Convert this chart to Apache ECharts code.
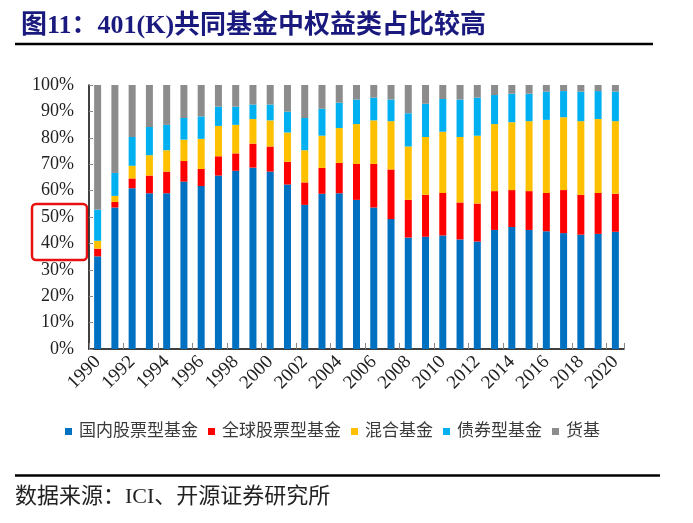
<!DOCTYPE html>
<html>
<head>
<meta charset="utf-8">
<script src="https://cdn.jsdelivr.net/npm/echarts@6/dist/echarts.min.js"></script>
<style>html,body{margin:0;padding:0;background:#fff;}#c{width:693px;height:523px;}</style>
</head>
<body>
<div id="c"></div>
<script>
const years = ['1990','1991','1992','1993','1994','1995','1996','1997','1998','1999','2000','2001','2002','2003','2004','2005','2006','2007','2008','2009','2010','2011','2012','2013','2014','2015','2016','2017','2018','2019','2020'];
const seriesNames = ['国内股票型基金','全球股票型基金','混合基金','债券型基金','货基'];
const domesticEquity = [35.1,53.6,60.9,59.0,59.0,63.4,61.7,65.7,67.5,68.7,67.2,62.3,54.6,58.8,59.0,56.5,53.6,49.2,42.2,42.5,43.0,41.5,40.7,45.1,46.2,45.1,44.6,43.9,43.3,43.6,44.4];
const globalEquity = [2.9,2.1,3.7,6.7,8.2,7.8,6.5,7.3,6.6,9.1,9.5,8.6,8.5,9.8,11.5,13.6,16.5,18.8,14.3,15.9,16.1,14.0,14.4,14.7,14.0,14.7,14.5,16.3,15.1,15.5,14.4];
const hybrid = [3.0,2.3,4.8,7.7,8.1,8.1,11.4,11.5,10.8,9.3,9.9,11.1,12.2,12.2,13.2,15.1,16.5,18.3,20.2,21.9,23.2,24.8,25.7,25.4,25.7,26.5,27.7,27.6,27.9,28.0,27.5];
const bond = [11.8,8.7,10.9,10.7,9.6,8.2,8.5,7.3,6.9,5.5,6.0,7.9,12.2,10.2,9.6,9.3,8.6,8.2,12.6,12.6,12.4,14.2,14.4,11.0,10.8,10.4,10.7,9.9,11.2,10.6,11.2];
const moneyMarket = [47.2,33.3,19.7,15.9,15.1,12.5,11.9,8.2,8.2,7.4,7.4,10.1,12.5,9.0,6.7,5.5,4.8,5.5,10.7,7.1,5.3,5.5,4.8,3.8,3.3,3.3,2.5,2.3,2.5,2.3,2.5];
const yTicks = [0,10,20,30,40,50,60,70,80,90,100];
const titleText = '图11：401(K)共同基金中权益类占比较高';
const sourceText = '数据来源：ICI、开源证券研究所';

const colors = ['#0070C0','#FF0000','#FFC000','#00B0F0','#8C8C8C'];
const values = [domesticEquity, globalEquity, hybrid, bond, moneyMarket];
const serifCJK = '"Liberation Serif", "Noto Sans CJK SC", serif';

const chart = echarts.init(document.getElementById('c'));
chart.setOption({
  animation: false,
  backgroundColor: '#fff',
  title: {
    text: titleText, left: 16, top: 8,
    textStyle: { fontFamily: serifCJK, fontWeight: 'bold', fontSize: 26, color: '#1a1a7e' }
  },
  grid: { left: 89, right: 69, top: 85, bottom: 174 },
  legend: {
    left: 60, top: 418,
    itemWidth: 7, itemHeight: 7, itemGap: 10,
    icon: 'rect',
    textStyle: { fontFamily: serifCJK, fontSize: 17, color: '#3a3a3a', padding: [0,0,0,2] },
    data: seriesNames
  },
  xAxis: {
    type: 'category', data: years,
    axisLine: { lineStyle: { color: '#000', width: 1.5 } },
    axisTick: { show: true, inside: true, length: 6, lineStyle: { color: '#888' } },
    axisLabel: { interval: 1, rotate: 45, fontFamily: '"Liberation Serif", serif', fontSize: 19, color: '#222', margin: 10 }
  },
  yAxis: {
    type: 'value', min: 0, max: 100, interval: 10,
    splitLine: { show: false },
    axisLine: { show: true, lineStyle: { color: '#000', width: 1.5 } },
    axisTick: { show: true, inside: true, length: 4, lineStyle: { color: '#888' } },
    axisLabel: { formatter: v => yTicks.includes(v) ? v + '%' : '', fontFamily: '"Liberation Serif", serif', fontSize: 18, color: '#222', margin: 15 }
  },
  series: seriesNames.map((n, i) => ({
    name: n, type: 'bar', stack: 'total', barWidth: 7,
    itemStyle: { color: colors[i] },
    data: values[i]
  })),
  graphic: [
    { type: 'line', shape: { x1: 15, y1: 44, x2: 653, y2: 44 }, style: { stroke: '#000', lineWidth: 2.5 } },
    { type: 'line', shape: { x1: 15, y1: 475.5, x2: 660, y2: 475.5 }, style: { stroke: '#000', lineWidth: 2.5 } },
    { type: 'text', left: 15, top: 486, style: { text: sourceText, font: '22px "Liberation Serif", "Noto Sans CJK SC", serif', fill: '#222' } },
    { type: 'rect', shape: { x: 32, y: 204, width: 55, height: 56, r: 4 }, style: { fill: 'none', stroke: '#E81010', lineWidth: 2.5 } }
  ]
});
</script>
</body>
</html>
